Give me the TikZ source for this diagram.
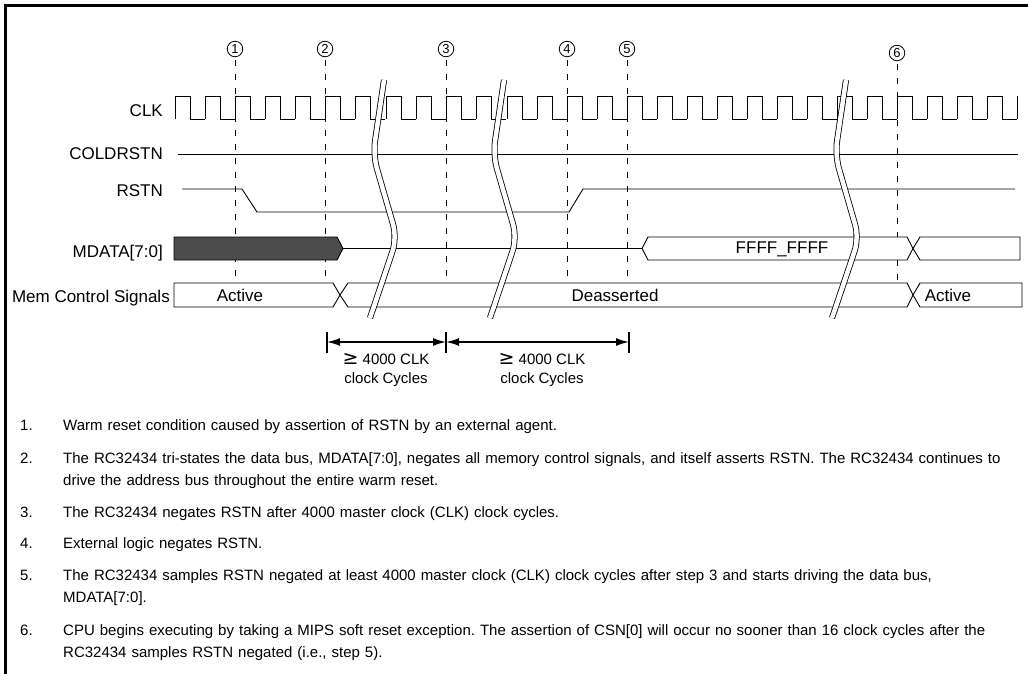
\documentclass[tikz,border=0pt]{standalone}
\usepackage{fontspec}
\setmainfont{Liberation Sans}
\newfontfamily\symfont{DejaVu Sans}
\frenchspacing
\usetikzlibrary{arrows.meta}

\tikzset{
  sig/.style={line width=0.9pt},
  bus/.style={sig, fill=white},
  marker/.style={draw, circle, line width=0.8pt, minimum size=15.5pt, inner sep=0pt, font=\fontsize{13}{13}\selectfont},
  guide/.style={line width=0.8pt, dash pattern=on 6pt off 8pt},
  brk/.style={line width=0.8pt, double=white, double distance=4.5pt, rounded corners=14pt},
  lbl/.style={anchor=base east, inner sep=0pt, font=\fontsize{17}{17}\selectfont},
  val/.style={anchor=base, font=\fontsize{17}{17}\selectfont},
  dim/.style={line width=1.6pt, {Latex[length=13pt,width=8pt]}-{Latex[length=13pt,width=8pt]}},
  tick/.style={line width=2pt},
  span/.style={align=center, font=\fontsize{15}{19}\selectfont},
  note/.style={anchor=base west, inner sep=0pt, font=\fontsize{15}{22}\selectfont}
}

\begin{document}
\begin{tikzpicture}[x=1pt, y=-1pt]
  \useasboundingbox (0,0) rectangle (1028,674);
  \draw[line width=3pt] (5.5,674) -- (5.5,5.5) -- (1028,5.5);

  % step markers and their guide lines
  \foreach \n/\x/\y in {1/235/49,2/325/49,3/446/49,4/567/49,5/627/49,6/897/53} {
    \node[marker] (m\n) at (\x,\y) {\n};
    \draw[guide, shorten <=3pt] (m\n.south) -- (\x,307);
  }

  % signal names
  \node[lbl] (clk) at (163,117) {CLK};
  \node[lbl] (cold) at (163,160) {COLDRSTN};
  \node[lbl] (rst) at (163,196) {RSTN};
  \node[lbl] (mdata) at (163,257) {MDATA[7:0]};
  \node[lbl] (mem) at (170,302) {Mem Control Signals};

  % CLK
  \foreach \x in {175,205,...,355,386,416,446,476}
    \draw[sig] (\x,119) -- (\x,96) -- ++(15,0) -- ++(0,23) -- ++(15,0);
  \foreach \x in {507,537,...,987}
    \draw[sig] (\x,119) -- (\x,96) -- ++(15,0) -- ++(0,23) -- ++(15,0);
  \draw[sig] (1017,119) -- (1017,96);

  % COLDRSTN and RSTN
  \draw[sig] (178,154) -- (1018,154);
  \draw[sig] (182,189) -- (242,189) -- (257,212) -- (569,212) -- (583,189) -- (1015,189);

  % MDATA[7:0]
  \draw[sig, fill=black!70] (174,237) -- (337,237) -- (343,248.5) -- (337,260) -- (174,260) -- cycle;
  \draw[sig] (343,248.5) -- (642,248.5);
  \draw[bus] (642,248.5) -- (648,237) -- (907,237) -- (913,248.5) -- (907,260) -- (648,260) -- cycle;
  \draw[bus] (913,248.5) -- (920,237) -- (1020,237) -- (1020,260) -- (920,260) -- cycle;
  \node[val] (ffff) at (782,253) {FFFF\_FFFF};

  % memory control signals
  \draw[bus] (174,283) -- (333,283) -- (340,295) -- (333,307) -- (174,307) -- cycle;
  \draw[bus] (340,295) -- (348,283) -- (907,283) -- (913,295) -- (907,307) -- (348,307) -- cycle;
  \draw[bus] (913,295) -- (920,283) -- (1022,283) -- (1022,307) -- (920,307) -- cycle;
  \node[val] (act1) at (240,301) {Active};
  \node[val] (deas) at (615,301) {Deasserted};
  \node[val] (act2) at (948,301) {Active};

  % time breaks
  \foreach \dx in {0,120,462}
    \draw[brk, xshift=\dx] (384,80) -- (373,155) -- (397,238) -- (370,318);

  % 4000 cycle spans
  \coordinate (d1) at (327,342);
  \coordinate (d2) at (446,342);
  \coordinate (d3) at (629,342);
  \foreach \c in {d1,d2,d3}
    \draw[tick] (\c) ++(0,-10) -- ++(0,21);
  \draw[dim] (d1) -- (d2);
  \draw[dim] (d2) -- (d3);
  \node[span] (s1) at (386,370) {{\symfont\fontsize{19}{19}\selectfont ≥} 4000 CLK\\clock Cycles};
  \node[span] (s2) at (542,370) {{\symfont\fontsize{19}{19}\selectfont ≥} 4000 CLK\\clock Cycles};

  % notes
  \node[note] (k1) at (20,430) {1.};
  \node[note] (k2) at (20,463) {2.};
  \node[note] (k3) at (20,517) {3.};
  \node[note] (k4) at (20,548) {4.};
  \node[note] (k5) at (20,580) {5.};
  \node[note] (k6) at (20,635) {6.};
  \node[note, text width=960pt] (t1) at (63,430) {Warm reset condition caused by assertion of RSTN by an external agent.};
  \node[note, text width=960pt] (t2) at (63,463) {The RC32434 tri-states the data bus, MDATA[7:0], negates all memory control signals, and itself asserts RSTN. The RC32434 continues to\\drive the address bus throughout the entire warm reset.};
  \node[note, text width=960pt] (t3) at (63,517) {The RC32434 negates RSTN after 4000 master clock (CLK) clock cycles.};
  \node[note, text width=960pt] (t4) at (63,548) {External logic negates RSTN.};
  \node[note, text width=960pt] (t5) at (63,580) {The RC32434 samples RSTN negated at least 4000 master clock (CLK) clock cycles after step 3 and starts driving the data bus,\\MDATA[7:0].};
  \node[note, text width=960pt] (t6) at (63,635) {CPU begins executing by taking a MIPS soft reset exception. The assertion of CSN[0] will occur no sooner than 16 clock cycles after the\\RC32434 samples RSTN negated (i.e., step 5).};
\end{tikzpicture}
\end{document}
